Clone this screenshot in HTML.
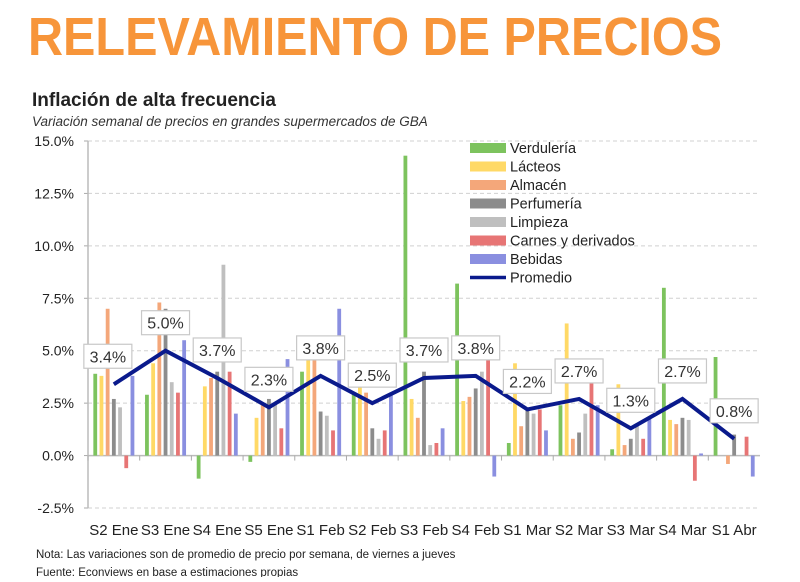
<!DOCTYPE html>
<html><head><meta charset="utf-8"><style>
body{margin:0;background:#fff;width:800px;height:577px;overflow:hidden;font-family:"Liberation Sans",sans-serif;}
</style></head><body>
<svg width="800" height="577" xmlns="http://www.w3.org/2000/svg">
<text x="28" y="55" font-size="54" font-weight="bold" fill="#F7953A" textLength="694" lengthAdjust="spacingAndGlyphs" font-family="Liberation Sans, sans-serif">RELEVAMIENTO DE PRECIOS</text>
<text x="32" y="106" font-size="19" font-weight="bold" fill="#222">Inflación de alta frecuencia</text>
<text x="32" y="126" font-size="13.5" font-style="italic" fill="#333">Variación semanal de precios en grandes supermercados de GBA</text>
<g id="grid"></g><g id="bars"></g><g id="line"></g><g id="labels"></g><g id="legend"></g>
<text x="36" y="558" font-size="11.5" fill="#222">Nota: Las variaciones son de promedio de precio por semana, de viernes a jueves</text>
<text x="36" y="576" font-size="11.5" fill="#222">Fuente: Econviews en base a estimaciones propias</text>
</svg>
<script>
const categories=["S2 Ene","S3 Ene","S4 Ene","S5 Ene","S1 Feb","S2 Feb","S3 Feb","S4 Feb","S1 Mar","S2 Mar","S3 Mar","S4 Mar","S1 Abr"];
const verduleria=[3.9,2.9,-1.1,-0.3,4.0,3.0,14.3,8.2,0.6,2.4,0.3,8.0,4.7];
const lacteos=[3.8,4.4,3.3,1.8,5.6,4.3,2.7,2.6,4.4,6.3,3.4,1.7,0.0];
const almacen=[7.0,7.3,3.7,2.5,4.8,3.0,1.8,2.8,1.4,0.8,0.5,1.5,-0.4];
const perfumeria=[2.7,7.0,4.0,2.7,2.1,1.3,4.0,3.2,2.2,1.1,0.8,1.8,1.0];
const limpieza=[2.3,3.5,9.1,2.5,1.9,0.8,0.5,4.0,2.0,2.0,1.5,1.7,0.0];
const carnes=[-0.6,3.0,4.0,1.3,1.2,1.2,0.6,5.7,2.2,3.5,0.8,-1.2,0.9];
const bebidas=[3.8,5.5,2.0,4.6,7.0,3.0,1.3,-1.0,1.2,2.4,1.8,0.1,-1.0];
const promedio=[3.4,5.0,3.7,2.3,3.8,2.5,3.7,3.8,2.2,2.7,1.3,2.7,0.8];
const yTicks=[15,12.5,10,7.5,5,2.5,0,-2.5];
const seriesNames=["Verdulería","Lácteos","Almacén","Perfumería","Limpieza","Carnes y derivados","Bebidas"];
const seriesColors=["#7DC35E","#FFD966","#F4A77A","#8C8C8C","#BFBFBF","#E77575","#8A8FE0"];
const seriesData=[verduleria,lacteos,almacen,perfumeria,limpieza,carnes,bebidas];
const NS="http://www.w3.org/2000/svg";
const x0=88,x1=760,yTop=141,yBot=508;
const y=v=>yTop+(15-v)*(yBot-yTop)/17.5;
const bw=(x1-x0)/categories.length;
const xc=i=>x0+bw*(i+0.5);
function mk(t,a,p){const e=document.createElementNS(NS,t);for(const k in a)e.setAttribute(k,a[k]);p.appendChild(e);return e;}
const grid=document.getElementById('grid');
yTicks.forEach(t=>{
 if(t!==0){const l=mk('line',{x1:x0,x2:x1,y1:y(t),y2:y(t),stroke:'#d0d0d0','stroke-dasharray':'4,3'},grid);
 
 }
 const tx=mk('text',{x:74,y:y(t)+5,'text-anchor':'end','font-size':14,fill:'#222'},grid);tx.textContent=t.toFixed(1)+'%';
 
 
 mk('line',{x1:x0-4,x2:x0,y1:y(t),y2:y(t),stroke:'#aaa'},grid);
});
const ax=mk('line',{x1:x0,x2:x0,y1:yTop,y2:yBot,stroke:'#bbb','stroke-width':1.5},grid);


const xa=mk('line',{x1:x0,x2:x1,y1:y(0),y2:y(0),stroke:'#bbb','stroke-width':1.5},grid);


categories.forEach((c,i)=>{
 mk('line',{x1:x0+bw*i,x2:x0+bw*i,y1:y(0),y2:y(0)+5,stroke:'#aaa'},grid);
 const tx=mk('text',{x:xc(i),y:535,'text-anchor':'middle','font-size':15,fill:'#222'},grid);tx.textContent=c;
 
 
});
const bars=document.getElementById('bars');
const pitch=6.2,w=3.8;
seriesData.forEach((arr,s)=>{arr.forEach((v,i)=>{
 const bx=xc(i)-3.5*pitch+s*pitch+(pitch-w)/2;
 const r=mk('rect',{x:bx,y:Math.min(y(v),y(0)),width:w,height:Math.abs(y(v)-y(0)),fill:seriesColors[s]},bars);
 
 
});});
const pts=promedio.map((v,i)=>xc(i)+','+y(v)).join(' ');
const pl=mk('polyline',{points:pts,fill:'none',stroke:'#0A1A8C','stroke-width':4,'stroke-linejoin':'miter'},document.getElementById('line'));


const lab=document.getElementById('labels');
promedio.forEach((v,i)=>{
 const cx=xc(i)-(i===0?6:0),cy=y(v)-28;
 const r=mk('rect',{x:cx-24,y:cy-12,width:48,height:24,fill:'#fff',stroke:'#c8c8c8','stroke-width':1.2},lab);
 
 
 const t=mk('text',{x:cx,y:cy+6,'text-anchor':'middle','font-size':16,fill:'#333'},lab);t.textContent=v.toFixed(1)+'%';
 
 
});
const lg=document.getElementById('legend');
const names=seriesNames.concat(["Promedio"]);
names.forEach((n,k)=>{
 const ly=148+k*18.5;
 if(k<7){mk('rect',{x:470,y:ly-5,width:36,height:10,fill:seriesColors[k]},lg);}
 else{mk('line',{x1:470,x2:506,y1:ly,y2:ly,stroke:'#0A1A8C','stroke-width':3.5},lg);}
 const t=mk('text',{x:510,y:ly+5,'font-size':14.5,fill:'#222'},lg);t.textContent=n;
 
 
});
</script>
</body></html>
